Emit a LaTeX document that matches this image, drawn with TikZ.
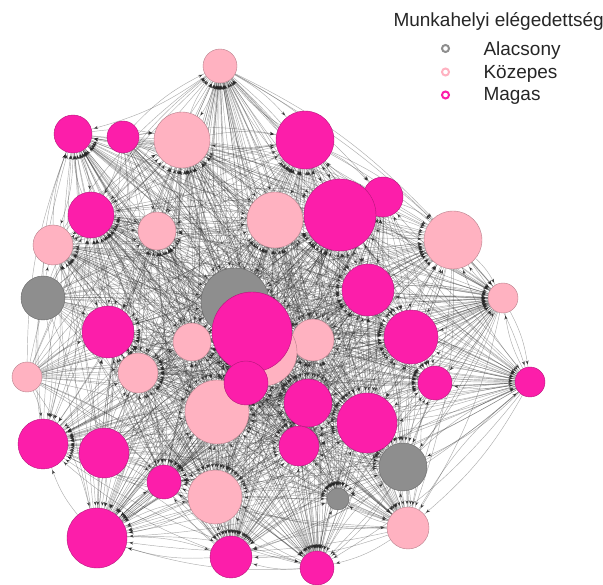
\documentclass[tikz,border=0pt]{standalone}
\usepackage{fontspec}
\setmainfont{Liberation Sans}
\usetikzlibrary{arrows.meta,decorations.markings}
\definecolor{cgray}{RGB}{142,142,142}
\definecolor{cpink}{RGB}{255,178,193}
\definecolor{cmag}{RGB}{252,30,170}
\pgfdeclarelayer{bg}
\pgfsetlayers{bg,main}
\def\XA{{0,220,73,123,182,305,91,157,53,275,340,383,453,43,235,368,503,108,192,313,263,252,411,27,138,246,217,435,530,308,367,299,43,104,403,164,215,338,408,97,231,317}}
\def\YA{{0,66,134,137,140,140,215,231,245,220,215,197,240,298,302,290,298,332,342,340,352,332,337,377,373,383,412,383,382,403,423,446,444,453,467,482,497,499,528,538,557,568}}
\def\RA{{0,17,19,16,28,29,23,19,20,28,36,20,29,22,34,26,15,26,19,21,34,40,27,15,20,22,32,17,15,24,30,20,25,25,24,17,27,11,21,30,21,17}}
\tikzset{
  vert/.style={circle, inner sep=0pt, line width=0.4pt},
  edge/.style={draw=black!80, line width=0.45pt, draw opacity=0.4, bend left=10,
    postaction={decorate},
    decoration={markings, mark=at position -2.5pt with
      {\arrow[black!85, opacity=0.72]{Stealth[length=4pt,width=3.2pt]}}}},
  legdot/.style={circle, inner sep=0pt, minimum size=7pt, line width=2pt, fill=white},
  legtxt/.style={anchor=base west, font=\fontsize{19}{22}\selectfont, text=black!85}
}
\begin{document}
\begin{tikzpicture}[x=1pt,y=-1pt]
\useasboundingbox (0,0) rectangle (603,585);
\foreach \n/\c in {1/cpink, 2/cmag, 3/cmag, 4/cpink, 5/cmag, 6/cmag, 7/cpink, 8/cpink,
  9/cpink, 11/cmag, 10/cmag, 12/cpink, 13/cgray, 14/cgray, 15/cmag, 16/cpink,
  17/cmag, 18/cpink, 19/cpink, 20/cpink, 21/cmag, 22/cmag, 23/cpink, 24/cpink,
  26/cpink, 25/cmag, 27/cmag, 28/cmag, 29/cmag, 30/cmag, 31/cmag, 32/cmag,
  33/cmag, 34/cgray, 35/cmag, 36/cpink, 37/cgray, 38/cpink, 39/cmag, 40/cmag, 41/cmag}{
  \pgfmathsetmacro\x{\XA[\n]}
  \pgfmathsetmacro\y{\YA[\n]}
  \pgfmathsetmacro\d{2*\RA[\n]}
  \node[vert, fill=\c, draw=\c!72!black, minimum size=\d pt] (n\n) at (\x,\y) {};
}
\begin{pgfonlayer}{bg}
\foreach \i in {1,...,41}{
  \foreach \j in {1,...,41}{
    \pgfmathtruncatemacro\k{mod(\i*37+\j*23+\i*\j,10)}
    \pgfmathsetmacro\gap{veclen(\XA[\i]-\XA[\j],\YA[\i]-\YA[\j])-\RA[\i]-\RA[\j]}
    \ifnum\i=\j\else\ifnum\k<9 \ifdim\gap pt>10pt
      \draw[edge] (n\i) to (n\j);
    \fi\fi\fi
  }
}
\end{pgfonlayer}
% legend
\node[legtxt] (ltitle) at (390,26.7) {Munkahelyi elégedettség};
\node[legdot, draw=cgray] (d1) at (445.5,48.5) {};
\node[legdot, draw=cpink] (d2) at (445.5,72) {};
\node[legdot, draw=cmag] (d3) at (445.5,95) {};
\node[legtxt] (t1) at (480,55.7) {Alacsony};
\node[legtxt] (t2) at (480,79) {Közepes};
\node[legtxt] (t3) at (480,100.7) {Magas};
\end{tikzpicture}
\end{document}
